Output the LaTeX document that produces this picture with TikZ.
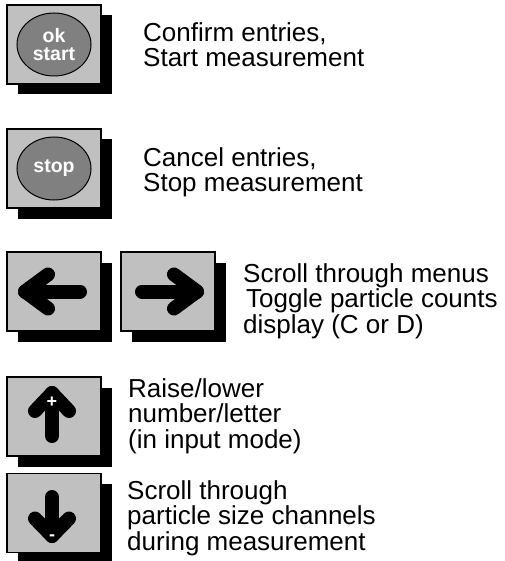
\documentclass[tikz,border=0pt]{standalone}
\usepackage{fontspec}
\setmainfont{Liberation Sans}
\usetikzlibrary{shapes.geometric,shadows}

\definecolor{keygray}{HTML}{C0C0C0}
\definecolor{capgray}{HTML}{808080}

\tikzset{
	keycap/.style={draw,line width=1.5pt,fill=keygray,minimum width=94pt,minimum height=79pt,inner sep=0pt,
		drop shadow={shadow xshift=10.5pt,shadow yshift=-10.5pt,fill=black,opacity=1}},
	oval/.style={ellipse,draw,line width=1pt,fill=capgray,minimum width=74pt,minimum height=63pt,inner sep=0pt,
		text=white,align=center,font=\bfseries\fontsize{19.5}{18}\selectfont},
	glyph/.style={line width=14pt,line cap=round,line join=round},
	sign/.style={text=white,inner sep=0pt,font=\bfseries\fontsize{18}{18}\selectfont},
	note/.style={anchor=base west,inner sep=0pt,align=left,font=\fontsize{26}{25.5}\selectfont}
}

\begin{document}
\begin{tikzpicture}[x=1pt,y=-1pt]
	\useasboundingbox (0,0) rectangle (504,561);

	\node[keycap] (okkey) at (54,44.5) {};
	\node[oval] (okcap) at (okkey.center) {ok\\start};
	\node[note] (oktext) at (143,66.7) {Confirm entries,\\Start measurement};

	\node[keycap] (stopkey) at (54,168.5) {};
	\node[oval] (stopcap) at (stopkey.center) {stop};
	\node[note] (stoptext) at (143,191.7) {Cancel entries,\\Stop measurement};

	\node[keycap] (leftkey) at (54,291.5) {};
	\node[keycap] (rightkey) at (168,291.5) {};
	\begin{scope}[shift={(leftkey.center)}]
		\draw[glyph] (-29,0) -- (26,0);
		\draw[glyph] (-6,-17) -- (-29,0) -- (-6,17);
	\end{scope}
	\begin{scope}[shift={(rightkey.center)},xscale=-1]
		\draw[glyph] (-29,0) -- (26,0);
		\draw[glyph] (-6,-17) -- (-29,0) -- (-6,17);
	\end{scope}
	\node[note] (scrolltext) at (243,333) {Scroll through menus\\\hspace{3pt}Toggle particle counts\\display (C or D)};

	\node[keycap] (upkey) at (54,416.5) {};
	\begin{scope}[shift={(upkey.center)}]
		\draw[glyph] (-2,-23.5) -- (-2,19.5);
		\draw[glyph] (-19,-5.5) -- (-2,-23.5) -- (15,-5.5);
		\node[sign] (plus) at (-2,-14.5) {+};
	\end{scope}
	\node[note] (uptext) at (128,448) {Raise/lower\\number/letter\\(in input mode)};

	\node[keycap] (downkey) at (54,513) {};
	\begin{scope}[shift={(downkey.center)}]
		\draw[glyph] (-2,-16) -- (-2,23);
		\draw[glyph] (-19,5.5) -- (-2,23) -- (15,5.5);
		\node[sign] (minus) at (-2,25) {-};
	\end{scope}
	\node[note] (downtext) at (127,550) {Scroll through\\particle size channels\\during measurement};
\end{tikzpicture}
\end{document}
